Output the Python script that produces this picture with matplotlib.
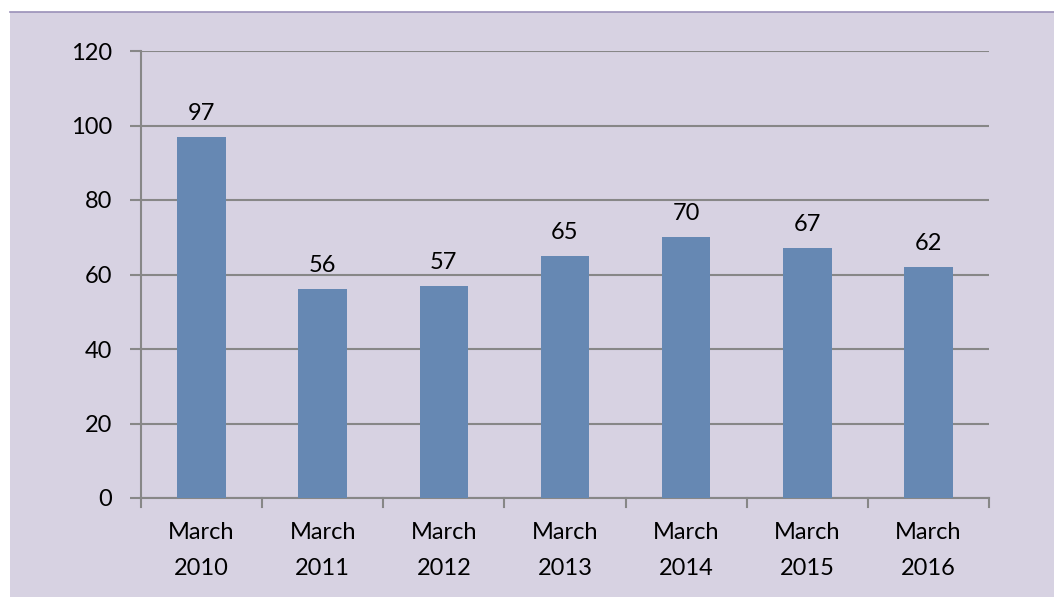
import matplotlib
matplotlib.use('Agg')
import matplotlib.pyplot as plt
from matplotlib.patches import Rectangle
from matplotlib.lines import Line2D

categories = ['March\n2010', 'March\n2011', 'March\n2012', 'March\n2013',
              'March\n2014', 'March\n2015', 'March\n2016']
values = [97, 56, 57, 65, 70, 67, 62]
y_ticks = [0, 20, 40, 60, 80, 100, 120]

W, H = 1054, 597
bg = '#D7D2E2'
bar_color = '#6688B3'
grid_color = '#878787'
fs = 17

plt.rcParams['font.family'] = ['Lato', 'DejaVu Sans']

fig = plt.figure(figsize=(W / 100, H / 100), dpi=100)
fig.patch.set_facecolor('white')

# lavender panel with a thin top border, kept behind the axes
fig.patches.append(Rectangle((10 / W, 0), 1 - 10 / W, 1 - 12 / H,
                             transform=fig.transFigure, facecolor=bg,
                             edgecolor='none', zorder=-10))
fig.lines.append(Line2D([10 / W, 1], [1 - 12 / H, 1 - 12 / H],
                        transform=fig.transFigure, color='#9A90B8', lw=1.2,
                        zorder=-9))

ax = fig.add_axes([141 / W, 1 - 498 / H, (989 - 141) / W, (498 - 51) / H])
ax.set_facecolor('none')

x = list(range(len(categories)))
ax.bar(x, values, width=0.4, color=bar_color, zorder=3)
for xi, v in zip(x, values):
    ax.text(xi, v + 3.5, str(v), ha='center', va='bottom', fontsize=fs, color='black')

ax.set_xlim(-0.5, len(categories) - 0.5)
ax.set_ylim(0, 120)
ax.set_yticks(y_ticks)
ax.set_yticklabels([str(t) for t in y_ticks], fontsize=fs)
ax.set_xticks(x)
ax.set_xticklabels(categories, fontsize=fs, linespacing=1.9)
ax.tick_params(axis='x', length=0, pad=17)
ax.tick_params(axis='y', length=8, width=1.5, color=grid_color, pad=13)

# category boundary ticks on the x axis
for b in [i - 0.5 for i in range(len(categories) + 1)]:
    ax.plot([b, b], [0, -2.4], color=grid_color, lw=1.5, clip_on=False, zorder=4)

ax.yaxis.grid(True, color=grid_color, lw=1.5, zorder=1)
for side in ['top', 'right']:
    ax.spines[side].set_visible(False)
ax.spines['left'].set_color(grid_color)
ax.spines['left'].set_linewidth(1.5)
ax.spines['bottom'].set_color(grid_color)
ax.spines['bottom'].set_linewidth(1.5)

fig.savefig('out.png', dpi=100)
